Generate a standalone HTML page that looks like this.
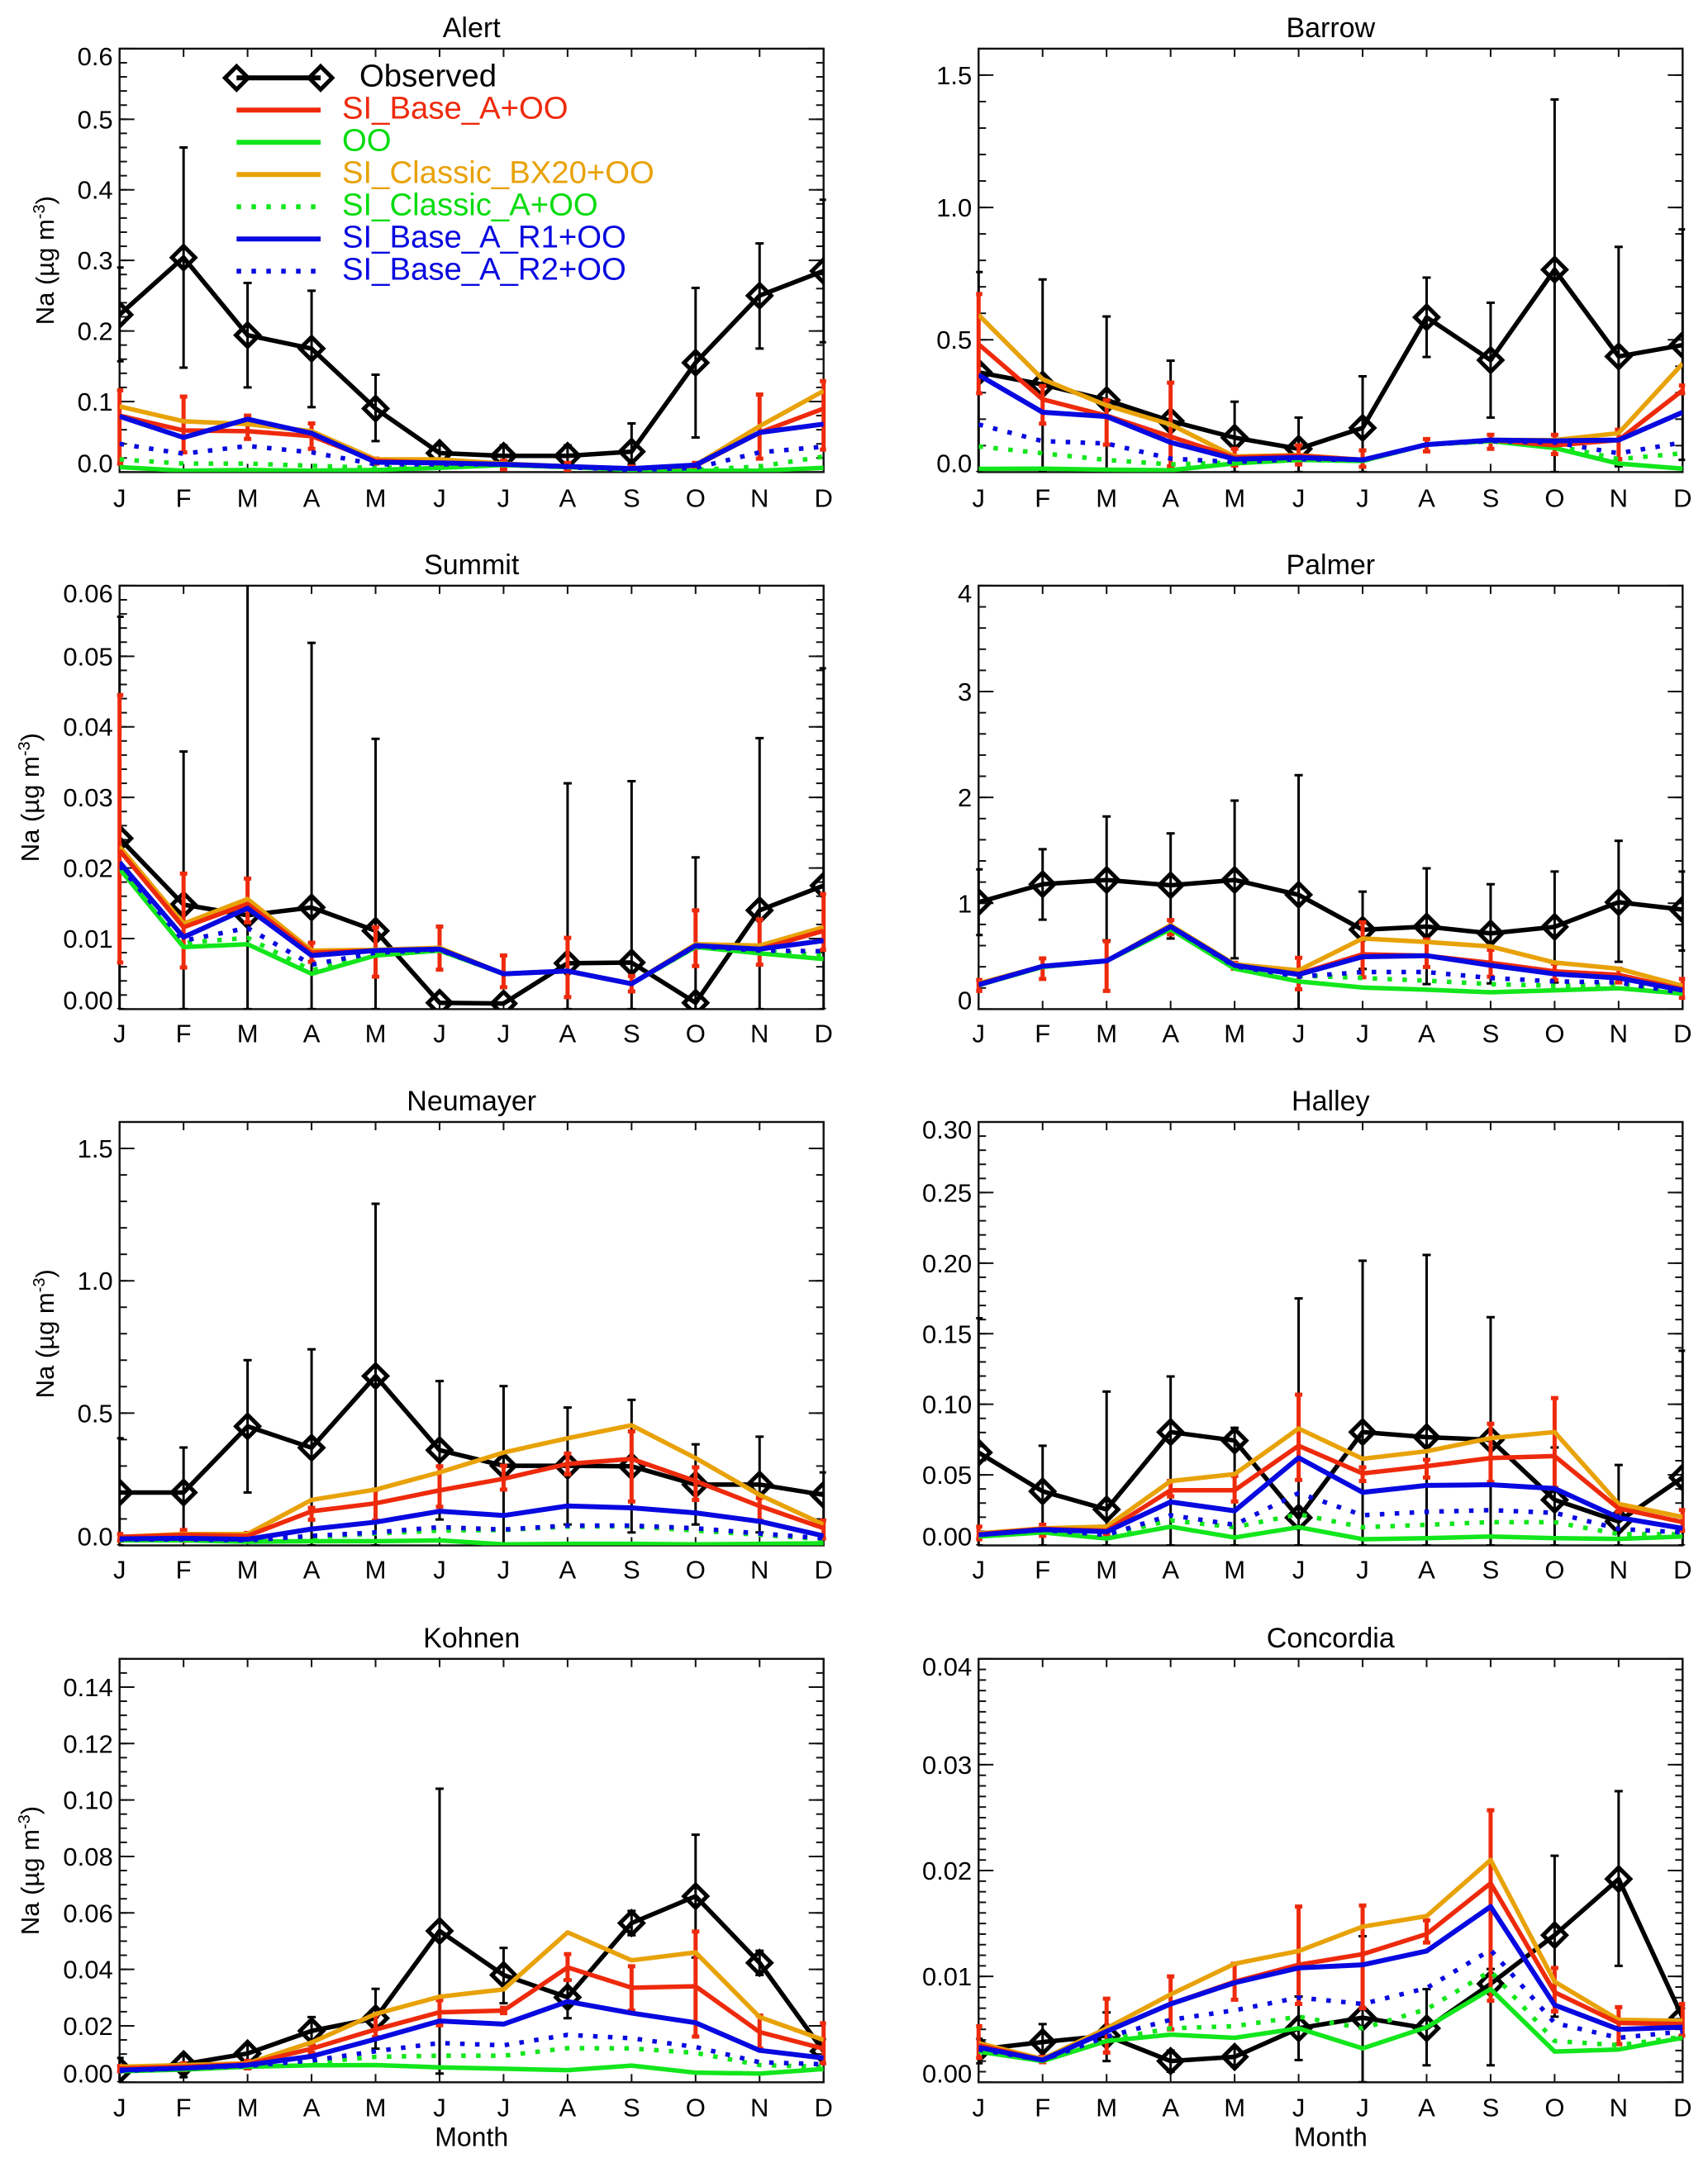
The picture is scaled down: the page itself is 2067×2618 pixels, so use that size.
<!DOCTYPE html>
<html lang="en">
<head>
<meta charset="utf-8">
<title>Monthly Na concentrations at eight polar stations</title>
<style>
html,body{margin:0;padding:0;background:#fff}
svg{display:block}
text{font-family:"Liberation Sans",sans-serif;fill:#000}
</style>
</head>
<body>
<svg id="chart" xmlns="http://www.w3.org/2000/svg" width="2067" height="2618" viewBox="0 0 2067 2618"></svg>
<script>
const monthLabels=['J','F','M','A','M','J','J','A','S','O','N','D'];

const alertTicks=['0.0','0.1','0.2','0.3','0.4','0.5','0.6'];
const alertObs=[.223,.304,.194,.175,.090,.027,.023,.023,.029,.155,.250,.285];
const alertObsHi=[.29,.46,.268,.257,.138,.038,.038,.038,.069,.261,.324,.386];
const alertObsLo=[.157,.148,.12,.092,.044,.013,.011,.011,.011,.049,.175,.184];
const alertRed=[.08,.059,.058,.051,.016,.013,.011,.008,.005,.009,.056,.09];
const alertRedHi=[.116,.107,.08,.069,.019,.018,.016,.013,.008,.013,.11,.129];
const alertRedLo=[.012,.028,.047,.033,.012,.008,.004,.003,.002,.003,.019,.032];
const alertOrange=[.093,.072,.068,.058,.018,.018,.012,.008,.005,.010,.065,.115];
const alertGreen=[.007,.002,.003,.002,.003,.006,.010,.007,.003,.002,.002,.006];
const alertGreenDot=[.018,.012,.012,.009,.006,.008,.010,.007,.004,.003,.008,.022];
const alertBlue=[.079,.049,.075,.055,.014,.013,.011,.008,.005,.010,.056,.068];
const alertBlueDot=[.040,.026,.037,.028,.011,.011,.011,.007,.003,.006,.028,.036];

const barrowTicks=['0.0','0.5','1.0','1.5'];
const barrowObs=[.377,.331,.272,.193,.130,.088,.167,.585,.423,.765,.437,.48];
const barrowObsHi=[.756,.728,.588,.421,.266,.206,.362,.735,.640,1.408,.851,.917];
const barrowObsLo=[0,0,0,0,0,0,0,.435,.206,0,.022,.046];
const barrowRed=[.483,.275,.213,.134,.055,.062,.046,.104,.121,.101,.121,.309];
const barrowRedHi=[.673,.325,.272,.338,.088,.101,.082,.125,.141,.141,.160,.327];
const barrowRedLo=[.298,.183,.104,.022,.025,.029,.020,.078,.088,.068,.049,.298];
const barrowOrange=[.594,.351,.252,.180,.059,.064,.046,.104,.121,.121,.147,.410];
const barrowGreen=[.012,.013,.009,.007,.033,.046,.042,.104,.117,.091,.032,.013];
const barrowGreenDot=[.097,.071,.046,.029,.036,.046,.042,.104,.117,.101,.049,.071];
const barrowBlue=[.367,.226,.210,.112,.049,.055,.046,.104,.121,.118,.121,.226];
const barrowBlueDot=[.180,.117,.108,.051,.038,.049,.046,.104,.117,.112,.071,.112];

const summitTicks=['0.00','0.01','0.02','0.03','0.04','0.05','0.06'];
const summitObs=[.0242,.0148,.0133,.0144,.0111,.0009,.0008,.0065,.0066,.0009,.0140,.0175];
const summitObsHi=[.0556,.0365,.065,.0519,.0383,.0009,.0008,.032,.0323,.0215,.0384,.0483];
const summitObsLo=[0,0,0,0,0,.0009,.0008,0,0,0,0,0];
const summitRed=[.0225,.0116,.0149,.0080,.0083,.0085,.0050,.0054,.0036,.0090,.0085,.0111];
const summitRedHi=[.0445,.0192,.0185,.0094,.0116,.0117,.0076,.0101,.0047,.0140,.0127,.0163];
const summitRedLo=[.0066,.0059,.0123,.0067,.0046,.0056,.0031,.0017,.0025,.0061,.0063,.0084];
const summitOrange=[.0230,.0121,.0156,.0083,.0084,.0087,.0050,.0054,.0036,.0092,.0090,.0116];
const summitGreen=[.0199,.0088,.0092,.0050,.0076,.0083,.0050,.0054,.0036,.0088,.0079,.0071];
const summitGreenDot=[.0203,.0094,.0101,.0055,.0077,.0083,.005,.0054,.0036,.0088,.0082,.0077];
const summitBlue=[.0208,.0102,.0143,.0076,.0083,.0085,.0050,.0054,.0036,.0090,.0085,.0097];
const summitBlueDot=[.0203,.0097,.0115,.0063,.0080,.0084,.005,.0054,.0036,.0089,.0083,.0082];

const palmerTicks=['0','1','2','3','4'];
const palmerObs=[1.01,1.18,1.22,1.17,1.22,1.08,.75,.78,.715,.777,1.01,.94];
const palmerObsHi=[1.32,1.51,1.82,1.66,1.97,2.21,1.11,1.33,1.18,1.30,1.59,1.30];
const palmerObsLo=[.70,.845,.65,.667,.48,0,.38,.236,.243,.252,.447,.553];
const palmerRed=[.236,.405,.456,.78,.414,.333,.518,.505,.437,.356,.324,.188];
const palmerRedHi=[.275,.479,.641,.841,.437,.485,.819,.657,.56,.43,.382,.285];
const palmerRedLo=[.172,.285,.172,.706,.382,.188,.301,.398,.307,.275,.252,.107];
const palmerOrange=[.243,.405,.456,.793,.424,.366,.667,.634,.592,.44,.382,.22];
const palmerGreen=[.227,.398,.456,.754,.382,.262,.204,.184,.159,.178,.197,.146];
const palmerGreenDot=[.236,.401,.456,.767,.392,.317,.294,.269,.236,.22,.236,.172];
const palmerBlue=[.23,.405,.456,.78,.414,.327,.495,.505,.414,.333,.294,.178];
const palmerBlueDot=[.233,.405,.456,.777,.405,.307,.35,.35,.294,.262,.252,.155];

const neumayerTicks=['0.0','0.5','1.0','1.5'];
const neumayerObs=[.2,.2,.45,.369,.64,.36,.301,.301,.299,.23,.23,.191];
const neumayerObsHi=[.405,.37,.70,.741,1.291,.621,.602,.521,.55,.382,.411,.276];
const neumayerObsLo=[0,.017,.2,0,0,.098,0,.079,.049,.079,.049,.097];
const neumayerRed=[.032,.04,.036,.129,.159,.208,.252,.308,.327,.243,.149,.065];
const neumayerRedHi=[.043,.058,.047,.142,.211,.299,.301,.347,.431,.295,.179,.094];
const neumayerRedLo=[.017,.017,.027,.097,.094,.146,.211,.269,.166,.172,.094,.026];
const neumayerOrange=[.032,.043,.043,.172,.211,.276,.351,.405,.454,.33,.191,.079];
const neumayerGreen=[.019,.019,.014,.016,.016,.019,.004,.006,.006,.004,.006,.008];
const neumayerGreenDot=[.022,.022,.017,.03,.045,.056,.058,.071,.072,.056,.04,.023];
const neumayerBlue=[.025,.027,.023,.062,.088,.129,.113,.149,.142,.123,.091,.036];
const neumayerBlueDot=[.022,.023,.019,.036,.049,.069,.06,.075,.075,.065,.045,.027];

const halleyTicks=['0.00','0.05','0.10','0.15','0.20','0.25','0.30'];
const halleyObs=[.0658,.0383,.0255,.0803,.0743,.0197,.0803,.0767,.0748,.0323,.017,.0481];
const halleyObsHi=[.161,.0706,.109,.1197,.0833,.175,.2017,.2058,.1617,.0694,.057,.1379];
const halleyObsLo=[0,0,0,0,0,0,0,0,0,0,0,0];
const halleyRed=[.008,.0117,.0104,.0391,.0391,.0706,.051,.0561,.0619,.0633,.0262,.0165];
const halleyRedHi=[.0133,.0146,.0133,.0456,.0493,.1068,.0553,.0607,.0862,.1044,.0286,.025];
const halleyRedLo=[.0044,.0068,.0075,.0347,.0311,.0464,.0456,.0481,.0449,.0408,.0238,.0104];
const halleyOrange=[.0085,.0121,.0133,.0456,.0505,.0828,.0614,.0667,.076,.0803,.0294,.0201];
const halleyGreen=[.0063,.0092,.0049,.0133,.0056,.0129,.0044,.0051,.0063,.0051,.0046,.0063];
const halleyGreenDot=[.0075,.0095,.0075,.0177,.0129,.0221,.0129,.0146,.0165,.0165,.008,.008];
const halleyBlue=[.0075,.0112,.0097,.0308,.0245,.0621,.0376,.0425,.043,.0403,.0197,.0121];
const halleyBlueDot=[.0075,.0109,.0075,.0214,.0146,.0371,.0214,.0238,.025,.0231,.0117,.0092];

const kohnenTicks=['0.00','0.02','0.04','0.06','0.08','0.10','0.12','0.14'];
const kohnenObs=[.0043,.0064,.0102,.0182,.0227,.0536,.038,.0301,.0564,.0659,.0423,.011];
const kohnenObsHi=[.0086,.0098,.0135,.0231,.0331,.104,.0476,.0362,.0607,.0877,.0466,.0153];
const kohnenObsLo=[0,.0018,.0049,.0131,.0119,.0031,.028,.0227,.0521,.0442,.038,.0067];
const kohnenRed=[.0049,.0055,.0064,.0119,.0187,.0248,.0254,.0407,.0335,.034,.0178,.0119];
const kohnenRedHi=[.0058,.0067,.0076,.0135,.0239,.0291,.0264,.0454,.0411,.0534,.0236,.0209];
const kohnenRedLo=[.0039,.0043,.0049,.0104,.016,.0202,.0245,.0362,.0254,.0162,.0119,.0067];
const kohnenOrange=[.0055,.0061,.0067,.0141,.0242,.0303,.0329,.0531,.0432,.046,.0231,.015];
const kohnenGreen=[.0039,.0045,.0055,.006,.0061,.0053,.0048,.0043,.0059,.0034,.0031,.0047];
const kohnenGreenDot=[.004,.0048,.0058,.007,.009,.0094,.0094,.0121,.012,.0104,.0061,.0055];
const kohnenBlue=[.0043,.005,.0061,.0092,.0153,.0217,.0206,.0286,.0245,.0211,.0113,.0086];
const kohnenBlueDot=[.004,.0049,.0058,.0077,.011,.0139,.0131,.0168,.0156,.0125,.0071,.0064];

const concordiaTicks=['0.00','0.01','0.02','0.03','0.04'];
const concordiaObs=[.0031,.0038,.0044,.002,.0024,.0051,.0061,.0051,.0093,.0139,.0192,.0061];
const concordiaObsHi=[.0041,.0055,.0066,.003,.0033,.0081,.0138,.0088,.0107,.0214,.0275,.007];
const concordiaObsLo=[.0018,.0025,.002,.001,.0015,.0021,0,.0016,.0016,.0062,.011,.0044];
const concordiaRed=[.0035,.0021,.0048,.0074,.0095,.0111,.0121,.014,.0188,.0085,.0056,.0055];
const concordiaRedHi=[.0053,.0024,.0079,.01,.0112,.0166,.0167,.0153,.0257,.0108,.0071,.0074];
const concordiaRedLo=[.0023,.0019,.0028,.005,.0078,.0074,.007,.0132,.0077,.0067,.0036,.0044];
const concordiaOrange=[.0037,.0022,.0051,.0083,.0112,.0124,.0147,.0157,.021,.0095,.0059,.0058];
const concordiaGreen=[.0029,.002,.0039,.0045,.0042,.0051,.0032,.0052,.0088,.0029,.0031,.0042];
const concordiaGreenDot=[.003,.0021,.004,.0051,.0053,.0062,.0051,.0069,.0105,.0039,.0035,.0043];
const concordiaBlue=[.0033,.0021,.0048,.0074,.0094,.0108,.0111,.0124,.0166,.0073,.005,.0052];
const concordiaBlueDot=[.0031,.0021,.0043,.0059,.0068,.008,.0074,.0089,.0125,.0056,.0042,.0048];

const legendLabels=['Observed','SI_Base_A+OO','OO','SI_Classic_BX20+OO','SI_Classic_A+OO','SI_Base_A_R1+OO','SI_Base_A_R2+OO'];

const COLORS={black:'#000',red:'#ee2a0c',green:'#12e61c',orange:'#e8a208',blue:'#0808e0'};
const NS='http://www.w3.org/2000/svg';
const root=document.getElementById('chart');
const plotW=852, plotH=512.5;

function mk(parent,tag,attrs,txt){
  const el=document.createElementNS(NS,tag);
  for(const k in attrs){el.setAttribute(k,attrs[k]);}
  if(txt!==undefined){el.textContent=txt;}
  parent.appendChild(el);
  return el;
}
function slug(s){return s.toLowerCase().replace(/[^a-z0-9]+/g,'-').replace(/^-|-$/g,'');}

function diamond(parent,cx,cy,r){
  return mk(parent,'polygon',{points:[[cx-r,cy],[cx,cy-r],[cx+r,cy],[cx,cy+r]].map(p=>p.join(',')).join(' '),fill:'none',stroke:COLORS.black,'stroke-width':5,'stroke-linejoin':'miter'});
}

function drawPanel(p){
  const W=plotW,H=plotH,L=p.left,T=p.top,B=T+H,R=L+W;
  const xScale=i=>L+i*W/11;
  const yScale=v=>B-v/p.yMax*H;
  const name=slug(p.name);

  const g=mk(root,'g',{});
  
  

  const title=mk(g,'text',{x:L+W/2,y:p.top-14,'text-anchor':'middle','font-size':34},p.name);
  
  

  const clip=mk(g,'clipPath',{id:'clip-'+name});
  mk(clip,'rect',{x:L,y:T,width:W,height:H});
  const clipErr=mk(g,'clipPath',{id:'clip-err-'+name});
  mk(clipErr,'rect',{x:L-3,y:T,width:W+6,height:H});

  const ax=mk(g,'g',{stroke:'#111',fill:'none','stroke-width':2});
  
  
  mk(ax,'rect',{x:L,y:T,width:W,height:H,'stroke-width':2.4});
  monthLabels.forEach((m,i)=>{
    const x=xScale(i);
    mk(ax,'line',{x1:x,x2:x,y1:B,y2:B-10});
    mk(ax,'line',{x1:x,x2:x,y1:T,y2:T+10});
    const t=mk(g,'text',{x:x,y:B+p.xLabelDy+11,'text-anchor':'middle','font-size':31},m);
    
    
  });
  const nMinor=Math.round(p.yMax/p.minorStep);
  for(let k=0;k<=nMinor;k++){
    const y=yScale(k*p.minorStep);
    mk(ax,'line',{x1:L,x2:L+9,y1:y,y2:y});
    mk(ax,'line',{x1:R,x2:R-9,y1:y,y2:y});
  }
  p.ticks.forEach(lbl=>{
    const v=parseFloat(lbl),y=yScale(v);
    mk(ax,'line',{x1:L,x2:L+18,y1:y,y2:y});
    mk(ax,'line',{x1:R,x2:R-18,y1:y,y2:y});
    const cy=Math.min(Math.max(y,T+9),B-11);
    const t=mk(g,'text',{x:L-8,y:cy+11,'text-anchor':'end','font-size':31},lbl);
    
    
  });

  const plot=mk(g,'g',{});
  
  

  function errorBars(hi,lo,color,sw,capW,capS,label){
    const eg=mk(plot,'g',{'clip-path':'url(#clip-err-'+name+')'});
    
    
    hi.forEach((h,i)=>{
      const x=xScale(i),y1=yScale(h),y2=yScale(lo[i]);
      if(Math.abs(y1-y2)<0.5){return;}
      mk(eg,'line',{x1:x,x2:x,y1:y1,y2:y2,stroke:color,'stroke-width':sw});
      mk(eg,'line',{x1:x-capW/2,x2:x+capW/2,y1:y1,y2:y1,stroke:color,'stroke-width':capS});
      mk(eg,'line',{x1:x-capW/2,x2:x+capW/2,y1:y2,y2:y2,stroke:color,'stroke-width':capS});
    });
  }
  function series(vals,color,dotted,label,sw){
    const pts=vals.map((v,i)=>xScale(i)+','+yScale(v)).join(' ');
    const attrs={points:pts,fill:'none',stroke:color,'stroke-width':sw,'stroke-linejoin':'round','clip-path':'url(#clip-'+name+')'};
    if(dotted){attrs['stroke-dasharray']='5.5 12.5';}
    const el=mk(plot,'polyline',attrs);
    
    
  }

  errorBars(p.obsHi,p.obsLo,COLORS.black,3,10,3,'observed-error-bars');
  series(p.obs,COLORS.black,false,'observed',5.5);
  const markers=mk(plot,'g',{'clip-path':'url(#clip-'+name+')'});
  
  
  p.obs.forEach((v,i)=>{
    const d=diamond(markers,xScale(i),yScale(v),14);
    
    
  });
  errorBars(p.redHi,p.redLo,COLORS.red,5,9,5,'si-base-a-error-bars');
  series(p.green,COLORS.green,false,'oo',5.5);
  series(p.greenDot,COLORS.green,true,'si-classic-a',5.5);
  series(p.orange,COLORS.orange,false,'si-classic-bx20',5.5);
  series(p.red,COLORS.red,false,'si-base-a',5.5);
  series(p.blueDot,COLORS.blue,true,'si-base-a-r2',5.5);
  series(p.blue,COLORS.blue,false,'si-base-a-r1',6);

  if(p.yTitleX){
    const cy=T+H/2;
    const yt=mk(g,'text',{transform:'translate('+(p.yTitleX+11)+','+cy+') rotate(-90)','text-anchor':'middle','font-size':31},'Na (µg m');
    
    
    mk(yt,'tspan',{'font-size':20,dy:-11},'-3');
    mk(yt,'tspan',{dy:11},')');
  }
  if(p.xTitle){
    const xt=mk(g,'text',{x:L+W/2,y:B+67+10,'text-anchor':'middle','font-size':32},'Month');
    
    
  }
}

const colL=144.7,colR=1184.3;
const panels=[
 {name:'Alert',left:colL,top:58.9,yMax:.6,minorStep:.02,ticks:alertTicks,yTitleX:54,xLabelDy:31,obs:alertObs,obsHi:alertObsHi,obsLo:alertObsLo,red:alertRed,redHi:alertRedHi,redLo:alertRedLo,orange:alertOrange,green:alertGreen,greenDot:alertGreenDot,blue:alertBlue,blueDot:alertBlueDot},
 {name:'Barrow',left:colR,top:58.9,yMax:1.6,minorStep:.1,ticks:barrowTicks,xLabelDy:31,obs:barrowObs,obsHi:barrowObsHi,obsLo:barrowObsLo,red:barrowRed,redHi:barrowRedHi,redLo:barrowRedLo,orange:barrowOrange,green:barrowGreen,greenDot:barrowGreenDot,blue:barrowBlue,blueDot:barrowBlueDot},
 {name:'Summit',left:colL,top:708.9,yMax:.06,minorStep:.002,ticks:summitTicks,yTitleX:36,xLabelDy:29,obs:summitObs,obsHi:summitObsHi,obsLo:summitObsLo,red:summitRed,redHi:summitRedHi,redLo:summitRedLo,orange:summitOrange,green:summitGreen,greenDot:summitGreenDot,blue:summitBlue,blueDot:summitBlueDot},
 {name:'Palmer',left:colR,top:708.9,yMax:4,minorStep:.2,ticks:palmerTicks,xLabelDy:29,obs:palmerObs,obsHi:palmerObsHi,obsLo:palmerObsLo,red:palmerRed,redHi:palmerRedHi,redLo:palmerRedLo,orange:palmerOrange,green:palmerGreen,greenDot:palmerGreenDot,blue:palmerBlue,blueDot:palmerBlueDot},
 {name:'Neumayer',left:colL,top:1358,yMax:1.6,minorStep:.1,ticks:neumayerTicks,yTitleX:54,xLabelDy:29,obs:neumayerObs,obsHi:neumayerObsHi,obsLo:neumayerObsLo,red:neumayerRed,redHi:neumayerRedHi,redLo:neumayerRedLo,orange:neumayerOrange,green:neumayerGreen,greenDot:neumayerGreenDot,blue:neumayerBlue,blueDot:neumayerBlueDot},
 {name:'Halley',left:colR,top:1358,yMax:.3,minorStep:.01,ticks:halleyTicks,xLabelDy:29,obs:halleyObs,obsHi:halleyObsHi,obsLo:halleyObsLo,red:halleyRed,redHi:halleyRedHi,redLo:halleyRedLo,orange:halleyOrange,green:halleyGreen,greenDot:halleyGreenDot,blue:halleyBlue,blueDot:halleyBlueDot},
 {name:'Kohnen',left:colL,top:2007.8,yMax:.15,minorStep:.005,ticks:kohnenTicks,yTitleX:36,xLabelDy:30,xTitle:true,obs:kohnenObs,obsHi:kohnenObsHi,obsLo:kohnenObsLo,red:kohnenRed,redHi:kohnenRedHi,redLo:kohnenRedLo,orange:kohnenOrange,green:kohnenGreen,greenDot:kohnenGreenDot,blue:kohnenBlue,blueDot:kohnenBlueDot},
 {name:'Concordia',left:colR,top:2007.8,yMax:.04,minorStep:.001,ticks:concordiaTicks,xLabelDy:30,xTitle:true,obs:concordiaObs,obsHi:concordiaObsHi,obsLo:concordiaObsLo,red:concordiaRed,redHi:concordiaRedHi,redLo:concordiaRedLo,orange:concordiaOrange,green:concordiaGreen,greenDot:concordiaGreenDot,blue:concordiaBlue,blueDot:concordiaBlueDot}
];
panels.forEach(drawPanel);

/* legend */
const legend=mk(root,'g',{});


const legendColors=[COLORS.black,COLORS.red,COLORS.green,COLORS.orange,COLORS.green,COLORS.blue,COLORS.blue];
const legendTextColors=['#000','#ee2a0c','#08dc10','#e8a208','#08dc10','#0808e0','#0808e0'];
const legendDotted=[false,false,false,false,true,false,true];
legendLabels.forEach((lbl,i)=>{
  const y=94.3+i*39;
  const attrs={x1:286.3,x2:388,y1:y,y2:y,stroke:legendColors[i],'stroke-width':6};
  if(legendDotted[i]){attrs['stroke-dasharray']='5.5 12.5';}
  const ln=mk(legend,'line',attrs);
  
  
  if(i===0){
    const d1=diamond(legend,286.3,y,14);
    
    
    const d2=diamond(legend,388,y,14);
    
    
  }
  const t=mk(legend,'text',{x:i===0?435:414,y:y+10,'font-size':38.3,style:'fill:'+legendTextColors[i]},lbl);
  
  
});
</script>
</body>
</html>
